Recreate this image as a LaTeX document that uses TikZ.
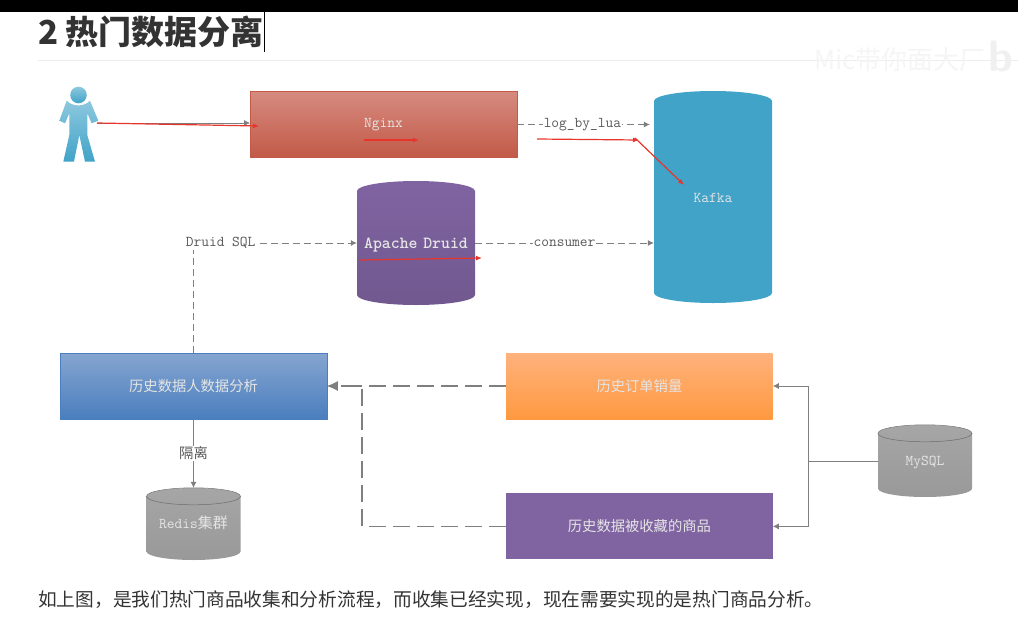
\documentclass[tikz,border=0pt]{standalone}
\usepackage{fontspec}
\newfontfamily\cjk{Noto Sans CJK SC}
\usetikzlibrary{positioning, shapes.geometric, arrows.meta}
\definecolor{linegray}{HTML}{7F7F7F}
\definecolor{redmark}{HTML}{E8352B}
\definecolor{skyblue}{HTML}{41A3C8}
\definecolor{druidpurple}{HTML}{8064A2}
\definecolor{nginxtop}{HTML}{D68A80}
\definecolor{nginxbot}{HTML}{C25A47}
\definecolor{analysistop}{HTML}{86A5D0}
\definecolor{analysisbot}{HTML}{4A7EBE}
\definecolor{ordertop}{HTML}{FFB27D}
\definecolor{orderbot}{HTML}{FF9940}
\tikzset{
    base/.style={align=center, font=\fontsize{14.3}{16}\selectfont\cjk, text=white!90!black, inner sep=0pt},
    mono/.style={font=\fontsize{15}{16}\selectfont\ttfamily},
    box/.style={base, rectangle, minimum width=266.5pt, minimum height=66pt},
    datacyl/.style={base, cylinder, shape border rotate=90, text width=118pt, anchor=shape center, text height=6pt, text depth=6pt, shape aspect=0.17},
    graycyl/.style={datacyl, top color=gray!70, bottom color=gray!80, text width=94pt, minimum height=72pt, shape aspect=0.18},
    tag/.style={mono, text=black!65, fill=white, inner sep=1pt},
    rim/.style={gray!85!black, line width=0.5pt},
    arrow/.style={-{Latex[length=6pt, width=6pt]}, linegray, line width=0.7pt},
    dashedarrow/.style={arrow, dash pattern=on 7pt off 4pt},
    bigdashed/.style={-{Latex[length=11pt, width=10pt]}, linegray, line width=1.8pt, dash pattern=on 17pt off 7pt},
    redarrow/.style={-{Latex[length=6pt, width=5pt]}, redmark, line width=1.2pt}
}
\begin{document}
\begin{tikzpicture}[x=1pt, y=-1pt]
    \useasboundingbox (0,0) rectangle (1018,640);
    % Header
    \fill [black] (0,0) rectangle (1018,12);
    \node [font=\fontsize{33}{36}\selectfont\cjk\bfseries, text=black!80, anchor=west, inner sep=0pt] (title) at (38,32) {2 热门数据分离};
    \coordinate (ruleleft) at (38,60);
    \coordinate (ruleright) at (1018,60);
    \draw [black!7, line width=0.8pt] (ruleleft) -- (ruleright);
    \draw [black, line width=0.5pt] (title.east |- 0,12) -- (title.east |- 0,52);
    \node [font=\fontsize{26}{28}\selectfont\cjk, text=black!4, anchor=west, inner sep=0pt] (watermark) at (814,60) {Mic带你面大厂};
    \node [font=\fontsize{44}{46}\selectfont\sffamily\bfseries, text=black!6, anchor=west, inner sep=0pt] (logo) at (988,56) {b};

    % User
    \shade [top color=skyblue!60, bottom color=skyblue] (78.5,95) circle (8.3);
    \shade [top color=skyblue!60, bottom color=skyblue] (66.7,100.7) .. controls (73,107) and (84,107) .. (90,100.7) -- (98.3,120.7) -- (91.7,123.3) -- (87.3,113.3) -- (87.3,135) -- (95,161.7) -- (85,161.7) -- (79.3,135) -- (74,161.7) -- (63.3,161.7) -- (69.3,135) -- (69.3,113.3) -- (65,123.3) -- (59.3,120.7) -- cycle;
    \coordinate (user) at (97,123);

    % Nodes
    \node [box, mono, top color=nginxtop, bottom color=nginxbot, draw=nginxbot] (nginx) at (383.5,124.5) {Nginx};
    \node [datacyl, mono, fill=skyblue, minimum height=212pt] (kafka) at (713,197) {Kafka};
    \node [datacyl, top color=druidpurple, bottom color=druidpurple!88!black, minimum height=124pt, font=\fontsize{17}{18}\selectfont\ttfamily\bfseries] (druid) at (416,243) {Apache Druid};

    \node [box, top color=analysistop, bottom color=analysisbot, draw=analysisbot] (analysis) at (193.5,386) {历史数据人数据分析};
    \node [box, top color=ordertop, bottom color=orderbot, right=179pt of analysis] (order) {历史订单销量};
    \node [box, fill=druidpurple, below=74pt of order] (favorite) {历史数据被收藏的商品};

    \node [graycyl] (redis) at (193.5,524) {\ttfamily\fontsize{15}{16}\selectfont Redis\cjk 集群};
    \node [graycyl, mono] (mysql) at (925,461) {MySQL};
    \draw [rim] (redis.north) ++(0,8.5) ellipse [x radius=47, y radius=8.5];
    \draw [rim] (mysql.north) ++(0,8.5) ellipse [x radius=47, y radius=8.5];

    \node [font=\fontsize{18.7}{20}\selectfont\cjk, text=black!80, anchor=west, inner sep=0pt] (note) at (38,600) {如上图，是我们热门商品收集和分析流程，而收集已经实现，现在需要实现的是热门商品分析。};

    % Connections
    \draw [arrow] (user) -- (nginx.west |- user);
    \draw [dashedarrow, shorten >=4pt] (nginx.east) -- node[tag, xshift=-3pt] {log\_by\_lua} (nginx.east -| kafka.west);
    \draw [dashedarrow] (druid.shape center -| druid.east) -- node[tag] {consumer} (druid.shape center -| kafka.west);
    \draw [dashedarrow] (analysis.north) |- node[tag, pos=0.5, anchor=west, xshift=-9pt] {Druid SQL} (druid.shape center -| druid.west);
    \draw [arrow] (analysis.south) -- node[tag, font=\fontsize{14.3}{16}\selectfont\cjk] {隔离} (redis.north);

    \coordinate (merge) at (362,386);
    \draw [bigdashed] (order.west) -- (analysis.east);
    \draw [bigdashed] (favorite.west) -| (merge) -- (analysis.east);

    \coordinate (bus) at (808,461);
    \draw [arrow] (mysql.shape center -| mysql.west) -- (bus) |- (order.east);
    \draw [arrow] (mysql.shape center -| mysql.west) -- (bus) |- (favorite.east);

    % Red marks
    \coordinate (mark1) at (364,140);
    \coordinate (mark1end) at (419,140);
    \coordinate (mark2) at (537,139);
    \coordinate (mark2end) at (639,140);
    \coordinate (mark3) at (635,138);
    \coordinate (mark3end) at (684,185);
    \coordinate (mark4) at (360,260);
    \coordinate (mark4end) at (482,258);
    \coordinate (nginxhit) at (259,126);
    \draw [redarrow] (user) -- (nginxhit);
    \draw [redarrow] (mark1) -- (mark1end);
    \draw [redarrow] (mark2) -- (mark2end);
    \draw [redarrow] (mark3) -- (mark3end);
    \draw [redarrow] (mark4) -- (mark4end);
\end{tikzpicture}
\end{document}
